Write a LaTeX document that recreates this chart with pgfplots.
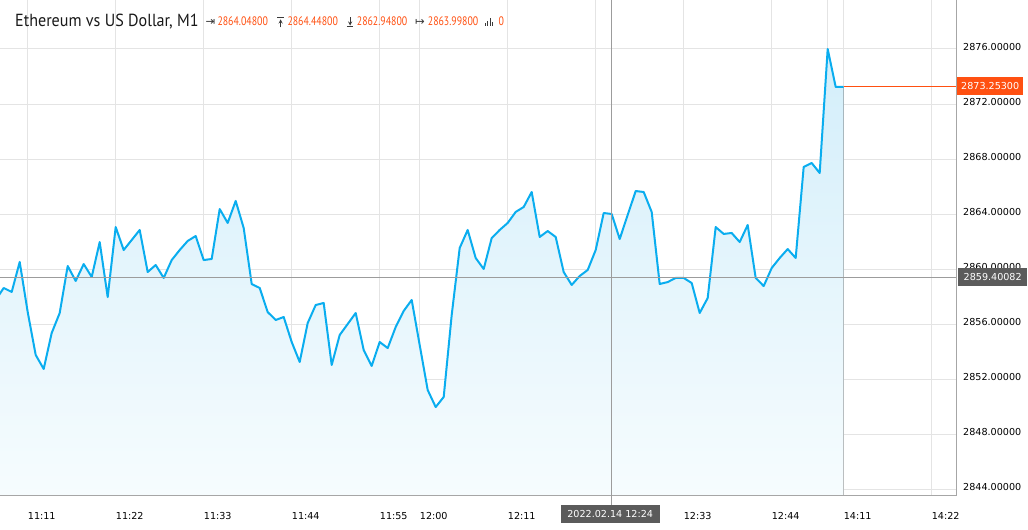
\documentclass[border=0pt]{standalone}
\usepackage{fontspec}
\setmainfont{DejaVu Sans}
\newfontfamily\pttitle[FakeStretch=0.92]{PT Sans}
\newfontfamily\ptnum[FakeStretch=0.8]{PT Sans}
\usepackage{pgfplots}
\pgfplotsset{compat=1.18}
\usepackage{pgfplotstable}
\usepgfplotslibrary{fillbetween}

\definecolor{linec}{HTML}{0AADEF}
\definecolor{filltop}{HTML}{D3EEFA}
\definecolor{fillbot}{HTML}{F6FCFE}
\definecolor{gridc}{HTML}{E4E4E4}
\definecolor{axisc}{HTML}{A6A6A6}
\definecolor{orangec}{HTML}{FF5011}
\definecolor{crossc}{HTML}{9C9C9C}
\definecolor{boxc}{HTML}{5B5B5B}
\definecolor{iconc}{HTML}{3A3A3A}

\pgfplotstableread{
k v
-4 2857.75
-3 2858.62
-2 2858.33
-1 2860.51
0 2856.87
1 2853.75
2 2852.73
3 2855.35
4 2856.80
5 2860.22
6 2859.13
7 2860.36
8 2859.42
9 2861.96
10 2857.96
11 2863.05
12 2861.38
13 2862.11
14 2862.84
15 2859.78
16 2860.29
17 2859.35
18 2860.65
19 2861.38
20 2862.04
21 2862.40
22 2860.65
23 2860.73
24 2864.36
25 2863.35
26 2864.95
27 2862.98
28 2858.91
29 2858.62
30 2856.87
31 2856.29
32 2856.51
33 2854.69
34 2853.24
35 2856.07
36 2857.38
37 2857.53
38 2853.02
39 2855.20
40 2856.00
41 2856.80
42 2854.11
43 2852.95
44 2854.69
45 2854.25
46 2855.78
47 2856.95
48 2857.75
49 2854.47
50 2851.20
51 2849.96
52 2850.69
53 2856.65
54 2861.53
55 2862.84
56 2860.80
57 2860.00
58 2862.25
59 2862.84
60 2863.35
61 2864.15
62 2864.51
63 2865.60
64 2862.33
65 2862.76
66 2862.33
67 2859.78
68 2858.84
69 2859.49
70 2859.93
71 2861.38
72 2864.07
73 2864.00
74 2862.18
75 2863.93
76 2865.67
77 2865.60
78 2864.15
79 2858.91
80 2859.05
81 2859.35
82 2859.35
83 2858.98
84 2856.80
85 2857.89
86 2863.05
87 2862.55
88 2862.62
89 2861.96
90 2863.20
91 2859.35
92 2858.76
93 2860.07
94 2860.80
95 2861.45
96 2860.80
97 2867.42
98 2867.71
99 2866.98
100 2876.00
101 2873.24
102 2873.253
}\pricedata

\pgfplotstableread{
k v
-4 2843.564
102 2843.564
}\basedata

\newcommand\tickfont{\fontsize{9.6}{11}\selectfont}

\begin{document}
\begin{tikzpicture}
\begin{axis}[
  width=956pt, height=495pt, scale only axis,
  xmin=-3.4625, xmax=116.04, ymin=2843.564, ymax=2879.564,
  axis line style={draw=none},
  tick style={draw=none},
  major tick length=0pt,
  grid=major,
  major grid style={draw=gridc, line width=1pt},
  xtick={0,11,22,33,44,49,60,71,82,93,100,102,113},
  xticklabels={11:11,11:22,11:33,11:44,11:55,12:00,12:11,,12:33,12:44,,14:11,14:22},
  xticklabel style={anchor=base west, inner sep=0pt, yshift=-24pt, font=\tickfont, text=black},
  ytick={2844,2848,2852,2856,2860,2864,2868,2872,2876},
  yticklabels={2844.00000,2848.00000,2852.00000,2856.00000,2860.00000,2864.00000,2868.00000,2872.00000,2876.00000},
  yticklabel pos=right,
  yticklabel style={anchor=west, inner sep=0pt, xshift=7pt, yshift=2pt, font=\tickfont, text=black},
]
\coordinate (tl) at (rel axis cs:0,1);
% area
\addplot[draw=none, name path=price] table[x=k, y=v] {\pricedata};
\addplot[draw=none, name path=base] table[x=k, y=v] {\basedata};
\addplot[draw=none, top color=filltop, bottom color=fillbot] fill between[of=price and base];
\addplot[draw=linec, line width=2pt, line join=round] table[x=k, y=v] {\pricedata};
% last price line
\addplot[draw=orangec, line width=1pt] coordinates {(102,2873.253) (116.04,2873.253)};
% crosshair
\addplot[crossc, line width=1pt] coordinates {(73,2843.564) (73,2879.564)};
\addplot[crossc, line width=1pt] coordinates {(-3.4625,2859.40082) (116.04,2859.40082)};
\coordinate (bl) at (rel axis cs:0,0);
\coordinate (br) at (rel axis cs:1,0);
\coordinate (tr) at (rel axis cs:1,1);
\coordinate (cb) at (axis cs:73,2843.564);
\coordinate (cr) at (axis cs:116.04,2859.40082);
\coordinate (orr) at (axis cs:116.04,2873.29);
\end{axis}
% frame
\draw[axisc, line width=1pt] (tr) -- (br) -- (bl);
\draw[axisc!70, line width=1pt] (tl) -- (tr) -- ++(72pt,0);
% outside-axis decorations
\draw[crossc, line width=1pt] (cb) -- ++(0,-10pt);
\node[fill=orangec, text=white, font=\tickfont, anchor=west, inner sep=0pt,
  minimum width=66pt, minimum height=17.7pt] at ([xshift=1pt]orr) {2873.25300};
\node[fill=boxc, text=white, font=\tickfont, anchor=west, inner sep=0pt,
  minimum width=69pt, minimum height=18pt] at ([xshift=2pt]cr) {2859.40082};
\node[fill=boxc, text=white, font=\tickfont, anchor=north, inner sep=0pt,
  minimum width=99pt, minimum height=17.7pt] at ([yshift=-10pt, xshift=-1.5pt]cb) {2022.02.14 12:24};
% title
\node[anchor=base west, inner sep=0pt, font=\pttitle\fontsize{17.5}{20}\selectfont, text=black!90]
  at ([xshift=15pt, yshift=-26.7pt]tl) {Ethereum vs US Dollar, M1};
\begin{scope}[every node/.style={anchor=base west, inner sep=0pt}]
\node[font=\fontsize{11.5}{12}\selectfont, text=iconc] at ([xshift=205.5pt, yshift=-26pt]tl) {⇥};
\node[font=\ptnum\fontsize{12.3}{13}\selectfont, text=orangec] at ([xshift=217.3pt, yshift=-26pt]tl) {2864.04800};
\node[font=\ptnum\fontsize{12.3}{13}\selectfont, text=orangec] at ([xshift=287.3pt, yshift=-26pt]tl) {2864.44800};
\node[font=\ptnum\fontsize{12.3}{13}\selectfont, text=orangec] at ([xshift=356.7pt, yshift=-26pt]tl) {2862.94800};
\node[font=\fontsize{11.5}{12}\selectfont, text=iconc] at ([xshift=415pt, yshift=-26pt]tl) {↦};
\node[font=\ptnum\fontsize{12.3}{13}\selectfont, text=orangec] at ([xshift=427.7pt, yshift=-26pt]tl) {2863.99800};
\node[text=iconc] at ([xshift=485pt, yshift=-26pt]tl)
  {\rule{1pt}{3pt}\hspace{1.2pt}\rule{1pt}{5pt}\hspace{1.2pt}\rule{1pt}{8pt}\hspace{1.2pt}\rule{1pt}{4pt}};
\node[font=\ptnum\fontsize{12.3}{13}\selectfont, text=orangec] at ([xshift=498.5pt, yshift=-26pt]tl) {0};
\end{scope}
% high / low icons (glyphs absent from the fonts)
\draw[iconc, line width=1pt] ([xshift=277.3pt, yshift=-18pt]tl) -- ++(6.6pt,0);
\draw[iconc, line width=0.9pt, -stealth] ([xshift=280.6pt, yshift=-27.5pt]tl) -- ++(0,8.2pt);
\draw[iconc, line width=1pt] ([xshift=346.8pt, yshift=-27pt]tl) -- ++(6.6pt,0);
\draw[iconc, line width=0.9pt, -stealth] ([xshift=350.1pt, yshift=-17.5pt]tl) -- ++(0,-8.2pt);
\pgfresetboundingbox
\path[use as bounding box] (tl) rectangle ++(1028pt,-530pt);
\end{tikzpicture}
\end{document}
